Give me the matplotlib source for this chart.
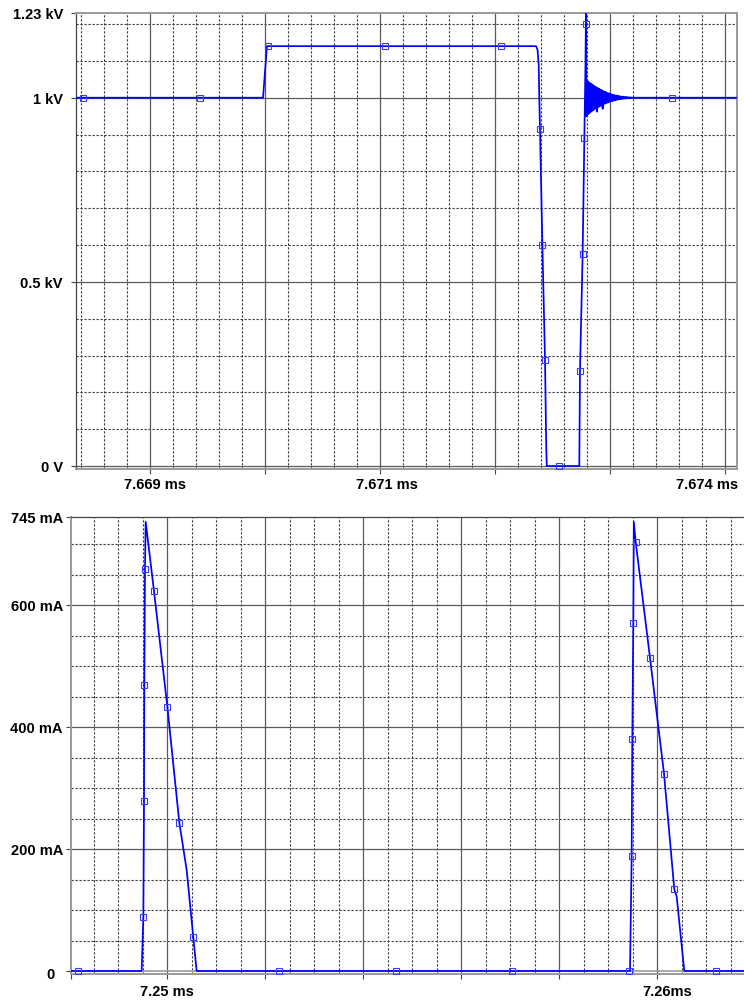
import numpy as np
import matplotlib
matplotlib.use("Agg")
import matplotlib.pyplot as plt

plt.rcParams['font.family'] = ['Liberation Sans', 'DejaVu Sans']

# ---------------- Upper panel: voltage (kV) vs time (ms) ----------------
v_time_ms = [7.6683565, 7.669983, 7.670017, 7.672357, 7.672370, 7.672380,
             7.672385, 7.672391, 7.672412, 7.672435, 7.672445, 7.672450,
             7.672733, 7.672739, 7.672762, 7.672777, 7.672787, 7.672791,
             7.672795]
v_kv = [1.0, 1.0, 1.14, 1.14, 1.13, 1.09,
        1.0, 0.916, 0.60, 0.287, 0.06, 0.0,
        0.0, 0.259, 0.575, 0.891, 1.10, 1.23,
        0.95]

# damped ringing after the recovery spike, sampled every 6 ns
ring_start_ms = 7.672798
ring_step_ms = 0.000006
ring_kv = [1.048, 0.954, 1.044, 0.957, 1.041, 0.960, 1.038, 0.963, 1.036, 0.966,
           1.033, 0.968, 1.030, 0.971, 1.028, 0.962, 1.026, 0.975, 1.024, 0.977,
           1.022, 0.979, 1.020, 0.970, 1.018, 0.983, 1.016, 0.984, 1.015, 0.986,
           1.013, 0.987, 1.012, 0.989, 1.011, 0.990, 1.009, 0.991, 1.008, 0.992,
           1.007, 0.993, 1.006, 0.994, 1.006, 0.995, 1.005, 0.996, 1.004, 0.996,
           1.003, 0.997, 1.003, 0.997, 1.002, 0.998, 1.002, 0.998, 1.002, 0.999,
           1.001, 0.999, 1.001, 0.999, 1.001, 1.0, 1.0, 1.0, 1.0, 1.0,
           1.0, 1.0, 1.0, 1.0, 1.0]

tail_time_ms = [7.673250, 7.6741043]
tail_kv = [1.0, 1.0]

v_mark_time_ms = [7.668417, 7.669435, 7.670026, 7.671043, 7.672052, 7.672391,
                  7.672412, 7.672435, 7.672557, 7.672739, 7.672762, 7.672777,
                  7.672790, 7.673539]
v_mark_kv = [1.0, 1.0, 1.14, 1.14, 1.14, 0.916,
             0.60, 0.287, 0.0, 0.259, 0.575, 0.891,
             1.20, 1.0]

v_ytick_vals = [0.0, 0.5, 1.0, 1.23]
v_ytick_text = ['0 V', '0.5 kV', '1 kV', '1.23 kV']
v_xlabel_vals = [7.669, 7.671, 7.674]
v_xlabel_text = ['7.669 ms', '7.671 ms', '7.674 ms']

# ---------------- Lower panel: current (mA) vs time (ms) ----------------
i_time_ms = [7.2480408, 7.249483, 7.249517, 7.249531, 7.249537, 7.249551,
             7.249565, 7.249735, 7.250007, 7.250252, 7.250401, 7.250537,
             7.250605,
             7.259449, 7.259483, 7.259496, 7.259516, 7.259527, 7.259565,
             7.259857, 7.260143, 7.260353, 7.260402, 7.260557, 7.2617755]
i_ma = [0, 0, 88, 279, 469, 660,
        737, 623, 434, 243, 166, 55,
        0,
        0, 189, 380, 571, 737, 704,
        514, 324, 134, 122, 0, 0]

i_mark_time_ms = [7.248184, 7.249517, 7.249531, 7.249537, 7.249551, 7.249735,
                  7.250007, 7.250252, 7.250537, 7.252286, 7.254673, 7.257041,
                  7.259435, 7.259483, 7.259496, 7.259516, 7.259565, 7.259857,
                  7.260143, 7.260353, 7.261204]
i_mark_ma = [0, 88, 279, 469, 660, 623,
             434, 243, 55, 0, 0, 0,
             0, 189, 380, 571, 704, 514,
             324, 134, 0]

i_ytick_vals = [0, 200, 400, 600, 745]
i_ytick_text = ['0', '200 mA', '400 mA', '600 mA', '745 mA']
i_xlabel_vals = [7.250, 7.260]
i_xlabel_text = ['7.25 ms', '7.26ms']

# ---------------- styling ----------------
W, H = 744, 1005
TRACE = '#0000ff'
MARK = '#3a3aff'
MAJOR = '#5a5a5a'
MINOR = '#3a3a3a'
FRAME = '#9a9a9a'
DARK = '#444444'
FS = 10.5


def pt(px):
    return px * 72.0 / 100.0


fig = plt.figure(figsize=(W / 100, H / 100), dpi=100)
fig.patch.set_facecolor('white')


def px_axes(left, top, right, bottom):
    return fig.add_axes([left / W, 1 - bottom / H, (right - left) / W, (bottom - top) / H])


def draw_grid(ax, xmaj, xmin, ymaj, ymin):
    for x in xmin:
        ax.axvline(x, color=MINOR, lw=0.8, ls=(0, (2.0, 1.6)), zorder=1)
    for y in ymin:
        ax.axhline(y, color=MINOR, lw=0.8, ls=(0, (2.0, 1.6)), zorder=1)
    for x in xmaj:
        ax.axvline(x, color=MAJOR, lw=0.9, zorder=1.5)
    for y in ymaj:
        ax.axhline(y, color=MAJOR, lw=0.9, zorder=1.5)


def label(ax, text, xy, coords, dx_px, dy_px, ha):
    ax.annotate(text, xy=xy, xycoords=coords, xytext=(pt(dx_px), pt(dy_px)),
                textcoords='offset points', ha=ha, va='center',
                fontsize=FS, fontweight='bold', color='black', annotation_clip=False)


# ======== upper axes ========
ax1 = px_axes(76, 13, 737, 469)
ax1.set_xlim(7.6683565, 7.6741043)
ax1.set_ylim(-0.008, 1.23)

x_major1 = np.round(np.arange(7.669, 7.67401, 0.001), 6)
x_minor1 = [x for x in np.round(np.arange(7.6684, 7.67401, 0.0002), 6)
            if not np.any(np.isclose(x, x_major1))]
y_major1 = [0.0, 0.5, 1.0]
y_minor1 = [y for y in np.round(np.arange(0.1, 1.21, 0.1), 3) if y not in (0.5, 1.0)]
draw_grid(ax1, x_major1, x_minor1, y_major1, y_minor1)

ring_time_ms = ring_start_ms + ring_step_ms * np.arange(len(ring_kv))
full_t = list(v_time_ms) + list(ring_time_ms) + tail_time_ms
full_v = list(v_kv) + list(ring_kv) + tail_kv
ax1.plot(full_t, full_v, color=TRACE, lw=1.25, zorder=3)
ax1.plot(v_mark_time_ms, v_mark_kv, ls='none', marker='s', ms=4.4, mfc='none',
         mec=MARK, mew=0.8, zorder=4)

ax1.set_xticks(x_major1)
ax1.set_xticklabels([])
ax1.set_yticks(v_ytick_vals)
ax1.set_yticklabels([])
ax1.tick_params(axis='both', direction='out', length=3.5, width=0.8, color=DARK)

for s in ('top', 'right', 'bottom'):
    ax1.spines[s].set_color(FRAME)
    ax1.spines[s].set_linewidth(1.4)
ax1.spines['left'].set_color(DARK)
ax1.spines['left'].set_linewidth(0.9)

for val, txt in zip(v_ytick_vals, v_ytick_text):
    label(ax1, txt, (0, val), ('axes fraction', 'data'), -13, -2, 'right')
label(ax1, v_xlabel_text[0], (v_xlabel_vals[0], 0), ('data', 'axes fraction'), 5, -16, 'center')
label(ax1, v_xlabel_text[1], (v_xlabel_vals[1], 0), ('data', 'axes fraction'), 7, -16, 'center')
label(ax1, v_xlabel_text[2], (v_xlabel_vals[2], 0), ('data', 'axes fraction'), 13, -16, 'right')

# ======== lower axes ========
ax2 = px_axes(71, 517, 744, 974)
ax2.set_xlim(7.2480408, 7.2617755)
ax2.set_ylim(-4.9, 745)

x_major2 = np.round(np.arange(7.250, 7.26101, 0.002), 6)
x_minor2 = [x for x in np.round(np.arange(7.2485, 7.26151, 0.0005), 6)
            if not np.any(np.isclose(x, x_major2))]
y_major2 = [200, 400, 600]
y_minor2 = [y for y in range(50, 701, 50) if y not in (200, 400, 600)]
draw_grid(ax2, x_major2, x_minor2, y_major2, y_minor2)
ax2.axhline(0, color=FRAME, lw=1.2, zorder=1.5)

ax2.plot(i_time_ms, i_ma, color=TRACE, lw=1.25, zorder=3)
ax2.plot(i_mark_time_ms, i_mark_ma, ls='none', marker='s', ms=4.4, mfc='none',
         mec=MARK, mew=0.8, zorder=4)

ax2.set_xticks([7.2480408] + list(x_major2))
ax2.set_xticklabels([])
ax2.set_yticks(i_ytick_vals)
ax2.set_yticklabels([])
ax2.tick_params(axis='both', direction='out', length=3.5, width=0.8, color=DARK)

ax2.spines['right'].set_visible(False)
ax2.spines['top'].set_color(DARK)
ax2.spines['top'].set_linewidth(0.9)
for s in ('left', 'bottom'):
    ax2.spines[s].set_color(FRAME)
    ax2.spines[s].set_linewidth(1.4)

for val, txt in zip(i_ytick_vals, i_ytick_text):
    if txt == '0':
        label(ax2, txt, (0, val), ('axes fraction', 'data'), -16, -4, 'right')
    else:
        label(ax2, txt, (0, val), ('axes fraction', 'data'), -8, -2, 'right')
label(ax2, i_xlabel_text[0], (i_xlabel_vals[0], 0), ('data', 'axes fraction'), 0, -18, 'center')
label(ax2, i_xlabel_text[1], (i_xlabel_vals[1], 0), ('data', 'axes fraction'), 10, -18, 'center')

fig.savefig('out.png', dpi=100, facecolor='white')
